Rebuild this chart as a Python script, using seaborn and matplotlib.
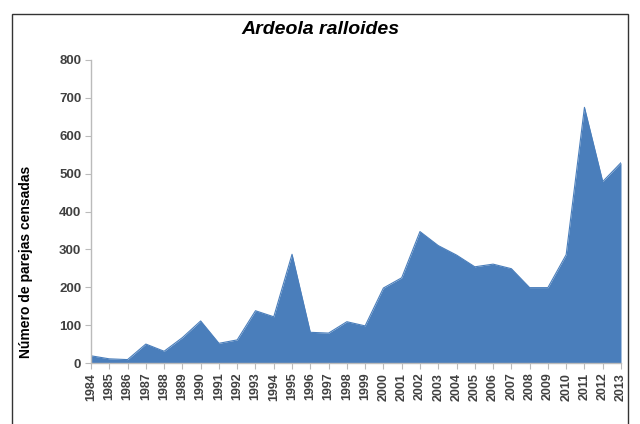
import matplotlib
matplotlib.use("Agg")
import pandas as pd
import seaborn as sns
import matplotlib.pyplot as plt
from matplotlib.patches import Rectangle

years = list(range(1984, 2014))
parejas = [19, 11, 9, 50, 31, 67, 111, 52, 61, 138, 122, 287, 81, 79, 109, 98,
           198, 225, 347, 310, 285, 254, 261, 249, 199, 199, 286, 675, 479, 529]
title = "Ardeola ralloides"
ylabel = "Número de parejas censadas"

df = pd.DataFrame({"year": years, "parejas": parejas})

sns.set_style("white")
plt.rcParams["font.family"] = ["Liberation Sans Narrow", "Liberation Sans", "DejaVu Sans"]

fig = plt.figure(figsize=(6.4, 4.24), dpi=100)
ax = fig.add_axes([91/640, 1 - 363/424, 530/640, 303/424])

color = "#4A7EBB"
sns.lineplot(data=df, x="year", y="parejas", ax=ax, color=color, linewidth=0.8)
ax.fill_between(df["year"], df["parejas"], 0, color=color, linewidth=0)

ax.set_xlim(1984, 2013)
ax.set_ylim(0, 800)
ax.set_yticks(range(0, 801, 100))
ax.set_xticks(years)
ax.set_xticklabels([str(y) for y in years], rotation=90, fontsize=9, color="#404040",
                   fontweight="bold")
ax.tick_params(axis="y", labelsize=9.5, colors="#404040")
for t in ax.get_yticklabels():
    t.set_fontweight("bold")
ax.tick_params(axis="both", direction="out", length=4, width=0.8, color="#BBBBBB",
               left=True, bottom=True, pad=3)
ax.set_xlabel("")
ax.set_ylabel(ylabel, fontsize=10, fontweight="bold", color="black",
              family=["Liberation Sans Narrow", "Liberation Sans", "DejaVu Sans"])
ax.yaxis.set_label_coords(-0.109, 0.335)

for s in ["top", "right"]:
    ax.spines[s].set_visible(False)
for s in ["left", "bottom"]:
    ax.spines[s].set_color("#BBBBBB")
    ax.spines[s].set_linewidth(1.0)

fig.text(0.5, 1 - 30/424, title, ha="center", va="center", fontsize=14,
         fontstyle="italic", fontweight="bold", color="black",
         family=["Liberation Sans", "DejaVu Sans"])

fig.patches.append(Rectangle((12/640, -0.05), 616/640, 1 - 14/424 + 0.05,
                             transform=fig.transFigure, fill=False,
                             edgecolor="#333333", linewidth=1.0))

fig.savefig("out.png", dpi=100)
